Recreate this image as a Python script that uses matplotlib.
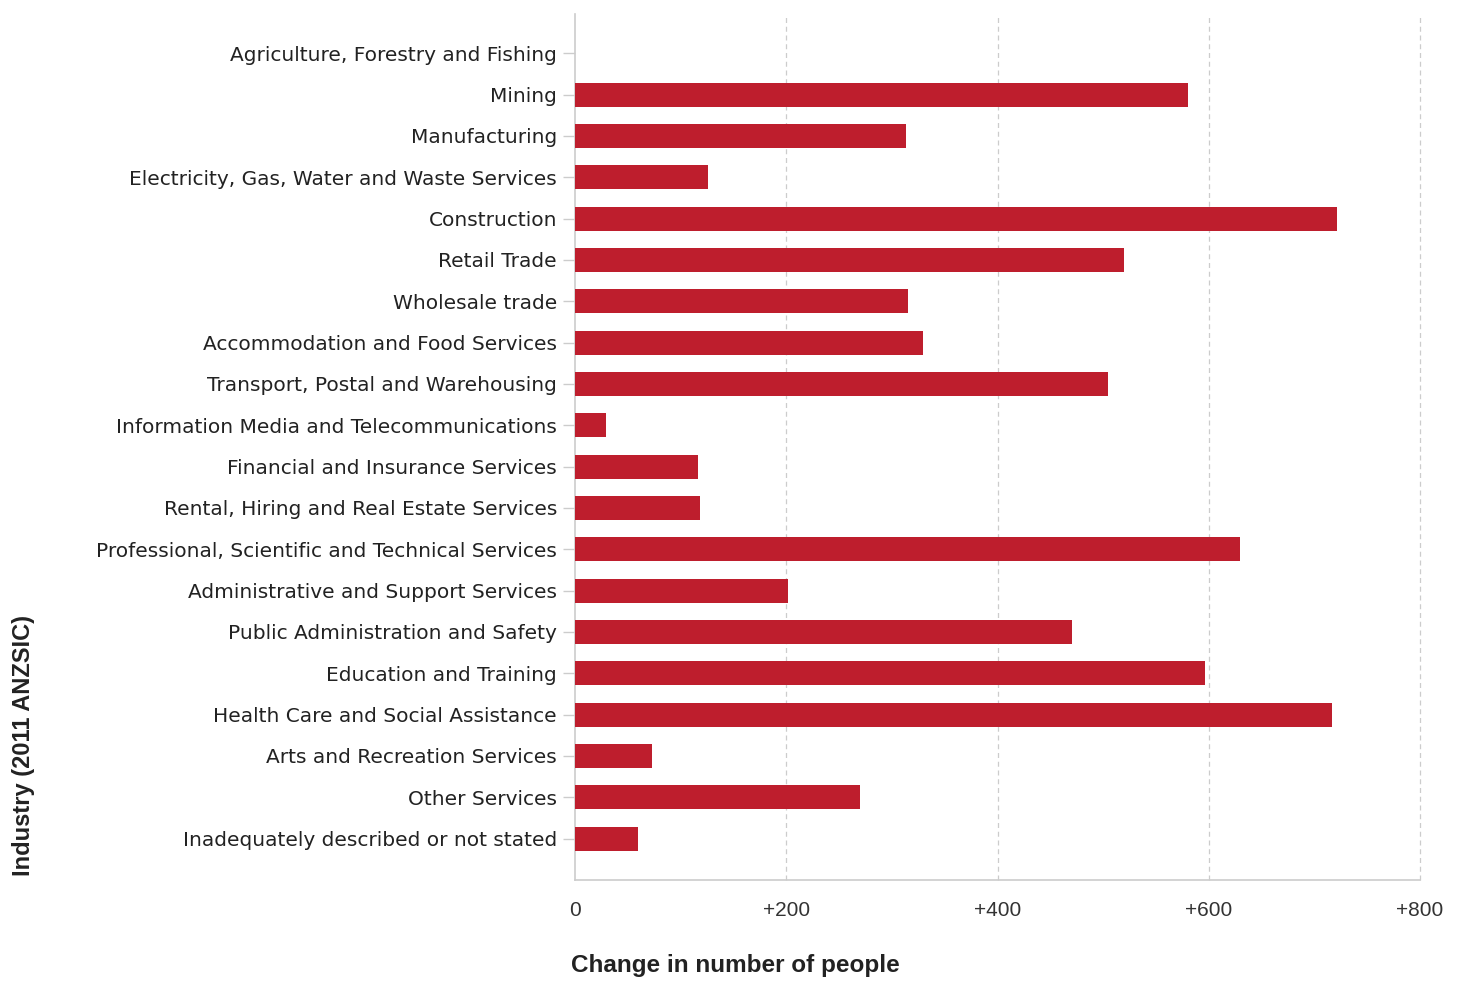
import numpy as np
import matplotlib
matplotlib.use("Agg")
import matplotlib.pyplot as plt
from matplotlib.ticker import FuncFormatter

industries = [
    "Agriculture, Forestry and Fishing",
    "Mining",
    "Manufacturing",
    "Electricity, Gas, Water and Waste Services",
    "Construction",
    "Retail Trade",
    "Wholesale trade",
    "Accommodation and Food Services",
    "Transport, Postal and Warehousing",
    "Information Media and Telecommunications",
    "Financial and Insurance Services",
    "Rental, Hiring and Real Estate Services",
    "Professional, Scientific and Technical Services",
    "Administrative and Support Services",
    "Public Administration and Safety",
    "Education and Training",
    "Health Care and Social Assistance",
    "Arts and Recreation Services",
    "Other Services",
    "Inadequately described or not stated",
]
change = [0, 580, 313, 126, 721, 520, 315, 329, 505, 29,
          116, 118, 630, 202, 471, 596, 717, 73, 270, 60]
xticks = [0, 200, 400, 600, 800]

bar_color = "#be1e2d"
grid_color = "#cccccc"
arial = ["Liberation Sans", "DejaVu Sans"]

fig = plt.figure(figsize=(14.63, 9.83), dpi=100)
ax = fig.add_axes([575 / 1463, 103 / 983, 845 / 1463, 866 / 983])

y = np.arange(len(industries))
ax.barh(y, change, height=0.58, color=bar_color, zorder=3)

ax.set_ylim(len(industries), -0.95)
ax.set_xlim(0, 800)
ax.set_yticks(y)
ax.set_yticklabels(industries, fontsize=14.5, color="#222222")
ax.set_xticks(xticks)
ax.xaxis.set_major_formatter(FuncFormatter(lambda v, p: "0" if v == 0 else f"+{int(v)}"))
for lab in ax.get_xticklabels():
    lab.set_family(arial)
    lab.set_fontsize(15)
    lab.set_color("#333333")

ax.tick_params(axis="y", length=9, width=1, color=grid_color, pad=4)
ax.tick_params(axis="x", length=0, pad=15)

for s in ["top", "right"]:
    ax.spines[s].set_visible(False)
for s in ["left", "bottom"]:
    ax.spines[s].set_color(grid_color)
    ax.spines[s].set_linewidth(1.2)

for xv in xticks[1:]:
    ax.axvline(xv, color=grid_color, linestyle=(0, (4, 3)), linewidth=0.9,
               zorder=1, clip_on=False)

ax.set_xlabel("Change in number of people", family=arial, fontsize=17.5,
              fontweight="bold", color="#222222")
ax.xaxis.set_label_coords(0.19, -0.085)

fig.text(0.016, 0.242, "Industry (2011 ANZSIC)", rotation=90, family=arial,
         fontsize=17, fontweight="bold", color="#222222", ha="center", va="center")

fig.savefig("out.png", dpi=100)
